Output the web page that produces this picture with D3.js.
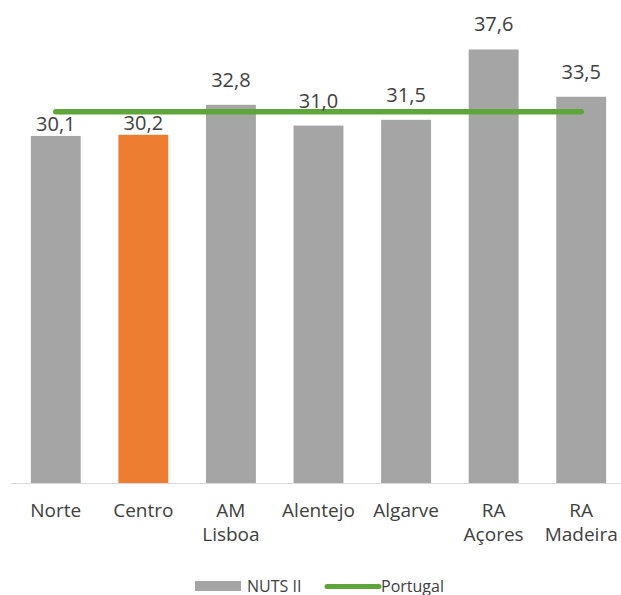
<!DOCTYPE html>
<html>
<head>
<meta charset="utf-8">
<script src="https://cdn.jsdelivr.net/npm/d3@7"></script>
<style>
  body { margin: 0; background: #fff; }
  text { font-family: "Open Sans", sans-serif; fill: #404040; }
</style>
</head>
<body>
<div id="chart"></div>
<script>
// chart data
const regions = ["Norte", "Centro", "AM Lisboa", "Alentejo", "Algarve", "RA Açores", "RA Madeira"];
const nutsValues = [30.1, 30.2, 32.8, 31.0, 31.5, 37.6, 33.5];
const portugalValues = [32.2, 32.2, 32.2, 32.2, 32.2, 32.2, 32.2];
const highlight = "Centro";
const legendLabels = ["NUTS II", "Portugal"];

const width = 621, height = 595;
const baseY = 483;

const svg = d3.select("#chart")
  .append("svg")
  .attr("width", width)
  .attr("height", height);

// scales
const x = d3.scaleBand()
  .domain(regions)
  .range([12, 625])
  .paddingInner(0.43)
  .paddingOuter(0.215);

const y = d3.scaleLinear()
  .domain([0, 40])
  .range([baseY, baseY - 11.53 * 40]);

const fmt = (v) => v.toFixed(1).replace(".", ",");

// bars
svg.selectAll("rect.bar")
  .data(regions)
  .join("rect")
  .attr("class", "bar")
  .attr("x", (d) => x(d))
  .attr("y", (d, i) => y(nutsValues[i]))
  .attr("width", x.bandwidth())
  .attr("height", (d, i) => baseY - y(nutsValues[i]))
  .attr("fill", (d) => (d === highlight ? "#ED7D31" : "#A5A5A5"));

// x axis (line only, labels below)
const xAxis = svg.append("g")
  .attr("transform", `translate(0,${baseY})`)
  .call(d3.axisBottom(x).tickSize(0).tickSizeOuter(0).tickFormat(""));
xAxis.select(".domain")
  .attr("d", `M11,0.5H${width}`)
  .attr("stroke", "#D9D9D9")
  .attr("stroke-width", 1.2);

// category labels, wrapped on two words
svg.append("g")
  .selectAll("text")
  .data(regions)
  .join("text")
  .attr("text-anchor", "middle")
  .style("font-size", "19px")
  .each(function (d) {
    const words = d.split(" ");
    const t = d3.select(this);
    words.forEach((w, k) => {
      t.append("tspan")
        .attr("x", x(d) + x.bandwidth() / 2)
        .attr("y", 517 + k * 24)
        .text(w);
    });
  });

// Portugal line
const line = d3.line()
  .x((d, i) => x(regions[i]) + x.bandwidth() / 2)
  .y((d) => y(d));

svg.append("path")
  .datum(portugalValues)
  .attr("d", line)
  .attr("fill", "none")
  .attr("stroke", "#5EA63A")
  .attr("stroke-width", 5.5)
  .attr("stroke-linecap", "round");

// value labels: above the bar, dropped close to the bar if they would hit the line
svg.append("g")
  .selectAll("text")
  .data(regions)
  .join("text")
  .attr("text-anchor", "middle")
  .style("font-size", "20px")
  .attr("x", (d) => x(d) + x.bandwidth() / 2)
  .attr("y", (d, i) => {
    const top = y(nutsValues[i]);
    const lineY = y(portugalValues[i]);
    let base = top - 18;
    if (base > lineY - 3 && base - 15 < lineY + 3) base = top - 5;
    return base;
  })
  .text((d, i) => fmt(nutsValues[i]));

// legend
const legend = svg.append("g");
legend.append("rect")
  .attr("x", 195).attr("y", 581)
  .attr("width", 46).attr("height", 10)
  .attr("fill", "#A5A5A5");
legend.append("text")
  .attr("x", 247).attr("y", 591.5)
  .style("font-size", "16px")
  .text(legendLabels[0]);
legend.append("line")
  .attr("x1", 327).attr("x2", 379)
  .attr("y1", 586.5).attr("y2", 586.5)
  .attr("stroke", "#5EA63A")
  .attr("stroke-width", 5)
  .attr("stroke-linecap", "round");
legend.append("text")
  .attr("x", 381).attr("y", 591.5)
  .style("font-size", "16px")
  .text(legendLabels[1]);
</script>
</body>
</html>
